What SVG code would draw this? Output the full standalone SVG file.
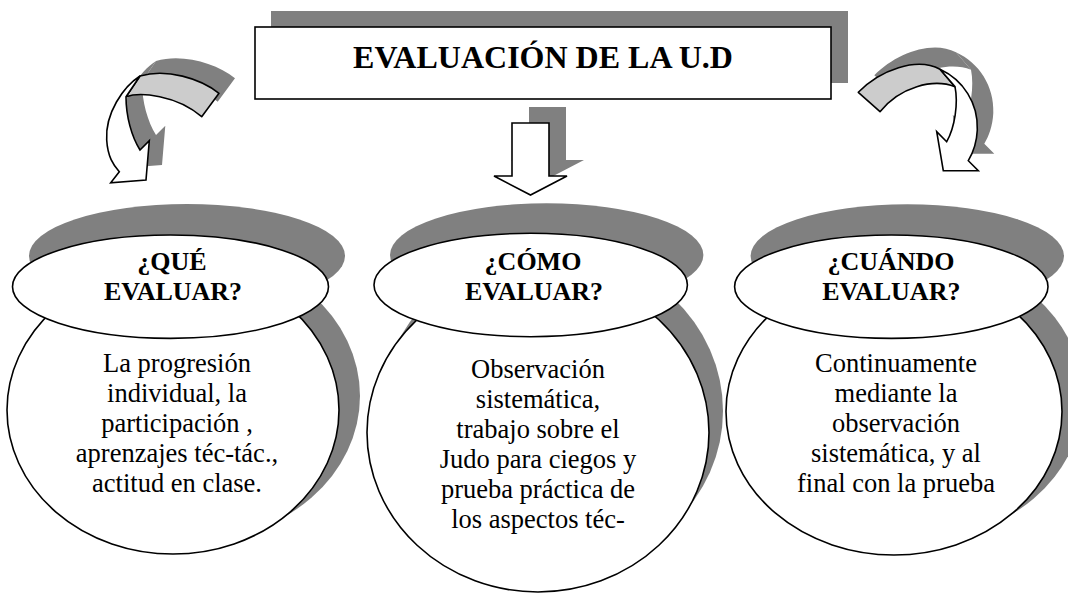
<svg xmlns="http://www.w3.org/2000/svg" width="1068" height="594" viewBox="0 0 1068 594">
  <style>
    .shadow { fill: #808080; stroke: none; }
    .shape { fill: #ffffff; stroke: #000000; stroke-width: 1.6; }
    .band { fill: #cccccc; stroke: #000000; stroke-width: 1.6; stroke-linejoin: round; }
    .arrow { fill: #ffffff; stroke: #000000; stroke-width: 1.6; stroke-linejoin: miter; }
    .title { font-family: "Liberation Serif", "Times New Roman", serif; font-weight: bold; font-size: 32px; text-anchor: middle; fill: #000; }
    .head { font-family: "Liberation Serif", "Times New Roman", serif; font-weight: bold; font-size: 26px; text-anchor: middle; fill: #000; }
    .body { font-family: "Liberation Serif", "Times New Roman", serif; font-size: 26.5px; text-anchor: middle; fill: #000; }
  </style>
  <defs>
    <path id="leftBand" d="M219,93.3 C200,78.3 166.7,68.3 140,76 L126,96.7 C140,91.7 176.7,95 201.7,116.7 Z"/>
    <path id="leftWhite" d="M140,76 C123.3,86.7 105,113.3 106.7,140 C107.7,156.7 113.3,165 119.3,171.7 L110.7,182.7 L146,180 L149.3,140.7 L140,150 C131.7,136.7 126,116.7 126,96.7 Z"/>
    <path id="rightBand" d="M858.3,92.3 C880,70 916.7,56.7 940,69.3 L955,86.7 C933.3,78.3 900,86.7 880,111.7 Z"/>
    <path id="rightWhite" d="M940,69.3 C963.3,80 978.3,103.3 977.3,130 C976.7,143.3 972.7,153.3 968.3,160.7 L978.3,170.7 L943.3,170.7 L936.7,131.7 L946.7,141.7 C955,126.7 958.3,103.3 955,86.7 Z"/>
    <path id="downArrow" d="M512,123 L549,123 L549,176 L567,176 L530.5,195 L494,176 L512,176 Z"/>
  </defs>

  <!-- Title node -->
  <g id="title">
    <rect class="shadow" x="271" y="11" width="577" height="72"/>
    <rect class="shape" x="255" y="27" width="576" height="72" stroke-width="2.2"/>
    <text class="title" x="543" y="68">EVALUACIÓN DE LA U.D</text>
  </g>

  <!-- Connectors (arrows) -->
  <g id="connectors">
    <g id="arrow-left">
      <g transform="translate(16,-15)">
        <use href="#leftBand" class="shadow"/>
        <use href="#leftWhite" class="shadow"/>
      </g>
      <use href="#leftBand" class="band"/>
      <use href="#leftWhite" class="arrow"/>
    </g>
    <g id="arrow-down">
      <use href="#downArrow" class="shadow" transform="translate(17,-16)"/>
      <use href="#downArrow" class="arrow"/>
    </g>
    <g id="arrow-right">
      <g transform="translate(16,-17)">
        <use href="#rightBand" class="shadow"/>
        <use href="#rightWhite" class="shadow"/>
      </g>
      <use href="#rightBand" class="band"/>
      <use href="#rightWhite" class="arrow"/>
    </g>
  </g>

  <!-- Node: ¿QUÉ EVALUAR? -->
  <g id="node-que">
    <ellipse class="shadow" cx="194" cy="396" rx="166" ry="144"/>
    <ellipse class="shadow" cx="187" cy="256" rx="158" ry="52"/>
    <ellipse class="shape" cx="173" cy="410" rx="166" ry="144"/>
    <ellipse class="shape" cx="170.5" cy="286.7" rx="158" ry="51.7"/>
    <text class="head" x="172" y="270">¿QUÉ</text>
    <text class="head" x="173" y="300">EVALUAR?</text>
    <text class="body" x="177" y="372">La progresión</text>
    <text class="body" x="177" y="402">individual, la</text>
    <text class="body" x="177" y="432">participación ,</text>
    <text class="body" x="177" y="462">aprenzajes téc-tác.,</text>
    <text class="body" x="177" y="492">actitud en clase.</text>
  </g>

  <!-- Node: ¿CÓMO EVALUAR? -->
  <g id="node-como">
    <ellipse class="shadow" cx="552" cy="411" rx="171" ry="160"/>
    <ellipse class="shadow" cx="546.7" cy="255" rx="156.7" ry="51.7"/>
    <ellipse class="shape" cx="538" cy="432.5" rx="171" ry="159.5"/>
    <ellipse class="shape" cx="530.7" cy="285" rx="156.7" ry="51.7"/>
    <text class="head" x="533" y="270">¿CÓMO</text>
    <text class="head" x="534" y="300">EVALUAR?</text>
    <text class="body" x="538" y="378">Observación</text>
    <text class="body" x="538" y="408">sistemática,</text>
    <text class="body" x="538" y="438">trabajo sobre el</text>
    <text class="body" x="538" y="468">Judo para ciegos y</text>
    <text class="body" x="538" y="498">prueba práctica de</text>
    <text class="body" x="538" y="528">los aspectos téc-</text>
  </g>

  <!-- Node: ¿CUÁNDO EVALUAR? -->
  <g id="node-cuando">
    <ellipse class="shadow" cx="915" cy="397" rx="168" ry="143.5"/>
    <ellipse class="shadow" cx="907.3" cy="256" rx="156.7" ry="51.7"/>
    <ellipse class="shape" cx="894" cy="411.5" rx="168" ry="143.5"/>
    <ellipse class="shape" cx="891.3" cy="286.7" rx="156.7" ry="51.7"/>
    <text class="head" x="891" y="270">¿CUÁNDO</text>
    <text class="head" x="891.3" y="300">EVALUAR?</text>
    <text class="body" x="896" y="372">Continuamente</text>
    <text class="body" x="896" y="402">mediante la</text>
    <text class="body" x="896" y="432">observación</text>
    <text class="body" x="896" y="462">sistemática, y al</text>
    <text class="body" x="896" y="492">final con la prueba</text>
  </g>
</svg>
